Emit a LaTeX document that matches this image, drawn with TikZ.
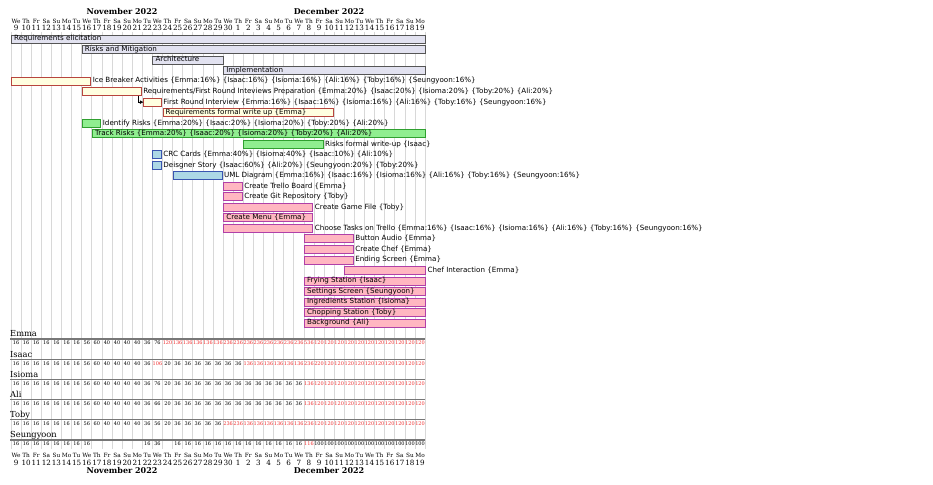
\documentclass[tikz,border=0pt]{standalone}
\usepackage{fontspec}
\setmainfont{DejaVu Serif}
\newfontfamily\tasksans{DejaVu Sans}
\usetikzlibrary{arrows.meta}
\definecolor{sumfill}{HTML}{E2E2F0}
\definecolor{sumdraw}{HTML}{555555}
\definecolor{yfill}{HTML}{FFFFE0}
\definecolor{ydraw}{HTML}{B8453E}
\definecolor{gfill}{HTML}{90EE90}
\definecolor{gdraw}{HTML}{30A030}
\definecolor{bfill}{HTML}{ADD8E6}
\definecolor{bdraw}{HTML}{3A55B0}
\definecolor{pfill}{HTML}{FFB6C1}
\definecolor{pdraw}{HTML}{B040A8}
\definecolor{gridc}{HTML}{D8D8D8}
\definecolor{resline}{HTML}{777777}
\definecolor{numred}{HTML}{F03030}
\tikzset{
  bar/.style={rectangle, inner sep=0pt, minimum height=8pt, line width=0.8pt},
  sumbar/.style={bar, fill=sumfill, draw=sumdraw},
  ybar/.style={bar, fill=yfill, draw=ydraw},
  gbar/.style={bar, fill=gfill, draw=gdraw},
  bbar/.style={bar, fill=bfill, draw=bdraw},
  pbar/.style={bar, fill=pfill, draw=pdraw},
  lab/.style={font=\tasksans\fontsize{7.15}{8}\selectfont, inner sep=0pt, anchor=west, text height=5.2pt, text depth=1.4pt},
  month/.style={font=\bfseries\fontsize{8}{9}\selectfont, inner sep=0pt},
  dayname/.style={font=\fontsize{5.8}{6}\selectfont, inner sep=0pt},
  daynum/.style={font=\fontsize{7.2}{8}\selectfont, inner sep=0pt},
  resname/.style={font=\fontsize{8.3}{9}\selectfont, inner sep=0pt, anchor=west},
  num/.style={font=\fontsize{5}{6}\selectfont, inner sep=0pt},
  gridl/.style={draw=gridc, line width=0.8pt},
  resl/.style={draw=resline, line width=1.2pt},
  dep/.style={draw=black, line width=0.6pt, -{Triangle[length=3.5pt,width=3.5pt]}}
}
\newcommand\gtask[5]{%
  \pgfmathsetmacro\gx{11+10.1*#3}%
  \pgfmathsetmacro\gw{10.1*(#4-#3)}%
  \pgfmathsetmacro\gy{39+10.52*#2}%
  \node[#5, minimum width=\gw pt, anchor=west] (#1) at (\gx,\gy) {};%
}
\newcommand\labout[2]{\node[lab] (#1l) at ([xshift=1.5pt]#1.east) {#2};}
\newcommand\labin[2]{\node[lab] (#1l) at ([xshift=3pt]#1.west) {#2};}
\newcommand\resrow[3]{%
  \pgfmathsetmacro\ly{339+20.2*#1}%
  \node[resname] (r#1) at (10,\ly-5) {#2};%
  \draw[resl] (10,\ly) -- (425,\ly);%
  \foreach \v [count=\i from 0] in #3 {%
    \ifnum\v>0
      \ifnum\v>100 \def\nc{numred}\else\def\nc{black}\fi
      \node[num, text=\nc] (n#1-\i) at ({16.05+10.1*\i},\ly+4) {\v};
    \fi
  }%
}
\def\emmaL{16,16,16,16,16,16,16,56,60,40,40,40,40,36,76,120,136,136,136,136,136,236,236,236,236,236,236,236,236,536,120,120,120,120,120,120,120,120,120,120,120}
\def\isaacL{16,16,16,16,16,16,16,56,60,40,40,40,40,36,106,20,36,36,36,36,36,36,36,136,136,136,136,136,136,236,220,120,120,120,120,120,120,120,120,120,120}
\def\isiomaL{16,16,16,16,16,16,16,56,60,40,40,40,40,36,76,20,36,36,36,36,36,36,36,36,36,36,36,36,36,136,120,120,120,120,120,120,120,120,120,120,120}
\def\aliL{16,16,16,16,16,16,16,56,60,40,40,40,40,36,66,20,36,36,36,36,36,36,36,36,36,36,36,36,36,136,120,120,120,120,120,120,120,120,120,120,120}
\def\tobyL{16,16,16,16,16,16,16,56,60,40,40,40,40,36,56,20,36,36,36,36,36,236,236,136,136,136,136,136,136,236,120,120,120,120,120,120,120,120,120,120,120}
\def\seungL{16,16,16,16,16,16,16,16,0,0,0,0,0,16,36,0,16,16,16,16,16,16,16,16,16,16,16,16,16,116,100,100,100,100,100,100,100,100,100,100,100}
\begin{document}
\begin{tikzpicture}[x=1pt,y=-1pt]
\useasboundingbox[fill=white] (0,0) rectangle (933,484);
% grid
\foreach \d in {0,...,41} \draw[gridl] ({11+10.1*\d},32) -- ({11+10.1*\d},449);
% header / footer
\node[month] (novT) at (122,12) {November 2022};
\node[month] (decT) at (329,12) {December 2022};
\node[month] (novB) at (122,471) {November 2022};
\node[month] (decB) at (329,471) {December 2022};
\foreach \d in {0,...,40} {
  \pgfmathtruncatemacro\dnum{\d<22 ? \d+9 : \d-21}
  \pgfmathtruncatemacro\dwk{mod(\d,7)}
  \pgfmathsetmacro\cx{16.05+10.1*\d}
  \node[dayname] (dt\d) at (\cx,21) {\ifcase\dwk We\or Th\or Fr\or Sa\or Su\or Mo\or Tu\fi};
  \node[daynum] (nt\d) at (\cx,28) {\dnum};
  \node[dayname] (db\d) at (\cx,455.5) {\ifcase\dwk We\or Th\or Fr\or Sa\or Su\or Mo\or Tu\fi};
  \node[daynum] (nb\d) at (\cx,462.5) {\dnum};
}
% tasks
\gtask{t1}{0}{0}{41}{sumbar}\labin{t1}{Requirements elicitation}
\gtask{t2}{1}{7}{41}{sumbar}\labin{t2}{Risks and Mitigation}
\gtask{t3}{2}{14}{21}{sumbar}\labin{t3}{Architecture}
\gtask{t4}{3}{21}{41}{sumbar}\labin{t4}{Implementation}
\gtask{t5}{4}{0}{7.85}{ybar}\labout{t5}{Ice Breaker Activities \{Emma:16\%\} \{Isaac:16\%\} \{Isioma:16\%\} \{Ali:16\%\} \{Toby:16\%\} \{Seungyoon:16\%\}}
\gtask{t6}{5}{7}{12.85}{ybar}\labout{t6}{Requirements/First Round Inteviews Preparation \{Emma:20\%\} \{Isaac:20\%\} \{Isioma:20\%\} \{Toby:20\%\} \{Ali:20\%\}}
\gtask{t7}{6}{13.1}{14.85}{ybar}\labout{t7}{First Round Interview \{Emma:16\%\} \{Isaac:16\%\} \{Isioma:16\%\} \{Ali:16\%\} \{Toby:16\%\} \{Seungyoon:16\%\}}
\gtask{t8}{7}{15}{31.9}{ybar}\labin{t8}{Requirements formal write up \{Emma\}}
\gtask{t9}{8}{7}{8.85}{gbar}\labout{t9}{Identify Risks \{Emma:20\%\} \{Isaac:20\%\} \{Isioma:20\%\} \{Toby:20\%\} \{Ali:20\%\}}
\gtask{t10}{9}{8}{41}{gbar}\labin{t10}{Track Risks \{Emma:20\%\} \{Isaac:20\%\} \{Isioma:20\%\} \{Toby:20\%\} \{Ali:20\%\}}
\gtask{t11}{10}{23}{30.85}{gbar}\labout{t11}{Risks formal write-up \{Isaac\}}
\gtask{t12}{11}{14}{14.85}{bbar}\labout{t12}{CRC Cards \{Emma:40\%\} \{Isioma:40\%\} \{Isaac:10\%\} \{Ali:10\%\}}
\gtask{t13}{12}{14}{14.85}{bbar}\labout{t13}{Deisgner Story \{Isaac:60\%\} \{Ali:20\%\} \{Seungyoon:20\%\} \{Toby:20\%\}}
\gtask{t14}{13}{16}{20.85}{bbar}\labout{t14}{UML Diagram \{Emma:16\%\} \{Isaac:16\%\} \{Isioma:16\%\} \{Ali:16\%\} \{Toby:16\%\} \{Seungyoon:16\%\}}
\gtask{t15}{14}{21}{22.85}{pbar}\labout{t15}{Create Trello Board \{Emma\}}
\gtask{t16}{15}{21}{22.85}{pbar}\labout{t16}{Create Git Repository \{Toby\}}
\gtask{t17}{16}{21}{29.85}{pbar}\labout{t17}{Create Game File \{Toby\}}
\gtask{t18}{17}{21}{29.85}{pbar}\labin{t18}{Create Menu \{Emma\}}
\gtask{t19}{18}{21}{29.85}{pbar}\labout{t19}{Choose Tasks on Trello \{Emma:16\%\} \{Isaac:16\%\} \{Isioma:16\%\} \{Ali:16\%\} \{Toby:16\%\} \{Seungyoon:16\%\}}
\gtask{t20}{19}{29}{33.85}{pbar}\labout{t20}{Button Audio \{Emma\}}
\gtask{t21}{20}{29}{33.85}{pbar}\labout{t21}{Create Chef \{Emma\}}
\gtask{t22}{21}{29}{33.85}{pbar}\labout{t22}{Ending Screen \{Emma\}}
\gtask{t23}{22}{33}{41}{pbar}\labout{t23}{Chef Interaction \{Emma\}}
\gtask{t24}{23}{29}{41}{pbar}\labin{t24}{Frying Station \{Isaac\}}
\gtask{t25}{24}{29}{41}{pbar}\labin{t25}{Settings Screen \{Seungyoon\}}
\gtask{t26}{25}{29}{41}{pbar}\labin{t26}{Ingredients Station \{Isioma\}}
\gtask{t27}{26}{29}{41}{pbar}\labin{t27}{Chopping Station \{Toby\}}
\gtask{t28}{27}{29}{41}{pbar}\labin{t28}{Background \{Ali\}}
% dependency
\draw[dep] ([xshift=-3pt]t6.south east) |- (t7.west);
% resources
\resrow{0}{Emma}{\emmaL}
\resrow{1}{Isaac}{\isaacL}
\resrow{2}{Isioma}{\isiomaL}
\resrow{3}{Ali}{\aliL}
\resrow{4}{Toby}{\tobyL}
\resrow{5}{Seungyoon}{\seungL}
\end{tikzpicture}
\end{document}
